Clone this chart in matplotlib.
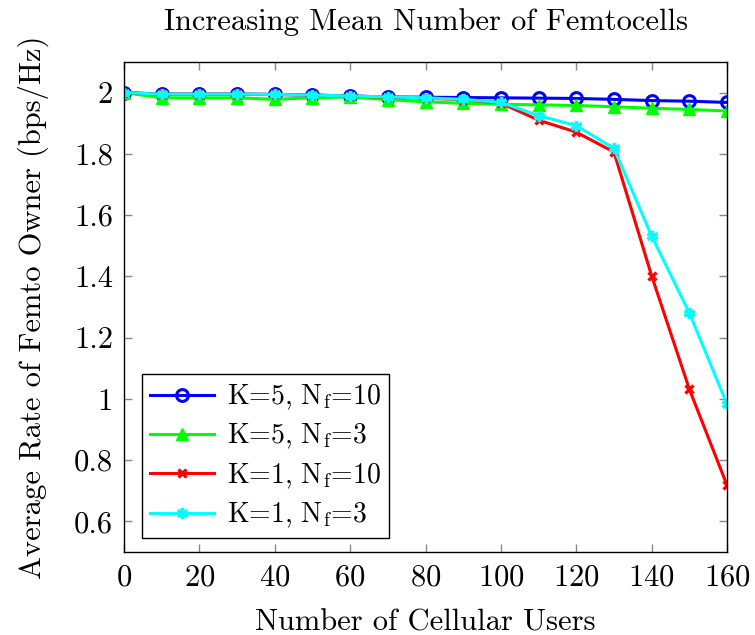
import numpy as np
import matplotlib.pyplot as plt
from matplotlib.ticker import FuncFormatter

plt.rcParams['font.family'] = ['cmr10', 'DejaVu Serif']
plt.rcParams['mathtext.fontset'] = 'cm'
plt.rcParams['axes.formatter.use_mathtext'] = True

# dados
usuarios = [0, 10, 20, 30, 40, 50, 60, 70, 80, 90, 100, 110, 120, 130, 140, 150, 160]
k5_nf10 = [2.0, 1.995, 1.995, 1.995, 1.994, 1.992, 1.989, 1.986, 1.985, 1.984, 1.983,
           1.982, 1.981, 1.978, 1.974, 1.972, 1.968]
k5_nf3 = [2.0, 1.983, 1.983, 1.983, 1.978, 1.983, 1.986, 1.977, 1.970, 1.965, 1.962,
          1.960, 1.958, 1.954, 1.949, 1.945, 1.940]
k1_nf10 = [2.0, 1.995, 1.995, 1.995, 1.994, 1.992, 1.989, 1.985, 1.982, 1.977, 1.966,
           1.910, 1.871, 1.806, 1.402, 1.032, 0.718]
k1_nf3 = [2.0, 1.995, 1.995, 1.995, 1.994, 1.992, 1.989, 1.986, 1.983, 1.978, 1.968,
          1.925, 1.892, 1.818, 1.532, 1.281, 0.983]
rotulos = ['K=5, N$_\\mathrm{f}$=10', 'K=5, N$_\\mathrm{f}$=3',
           'K=1, N$_\\mathrm{f}$=10', 'K=1, N$_\\mathrm{f}$=3']

fs = 22

fig = plt.figure(figsize=(7.55, 6.35), dpi=100)
ax = fig.add_axes([124/755, 83/635, 603/755, 490/635])

lw = 2.2
ax.plot(usuarios, k5_nf10, color='blue', lw=lw, marker='o', ms=8.5,
        mfc='none', mew=2.2, label=rotulos[0])
ax.plot(usuarios, k5_nf3, color='#00ff00', lw=lw, marker='^', ms=9,
        mew=1, label=rotulos[1])
ax.plot(usuarios, k1_nf10, color='red', lw=lw, marker='x', ms=6,
        mew=2.4, label=rotulos[2])
ax.plot(usuarios, k1_nf3, color='cyan', lw=lw, marker=(6, 2, 0), ms=8,
        mew=2.4, label=rotulos[3])

ax.set_xlim(0, 160)
ax.set_ylim(0.5, 2.1)
ax.set_xticks(np.arange(0, 161, 20))
ax.set_yticks(np.arange(0.6, 2.01, 0.2))
ax.yaxis.set_major_formatter(FuncFormatter(lambda v, p: '{:g}'.format(round(v, 2))))

ax.tick_params(direction='in', top=True, right=True, length=6, width=1,
               color='#888888', labelsize=fs)
ax.tick_params(axis='x', pad=9)
ax.tick_params(axis='y', pad=8)
for s in ax.spines.values():
    s.set_linewidth(1.0)

ax.set_xlabel('Number of Cellular Users', fontsize=fs, labelpad=12)
ax.set_ylabel('Average Rate of Femto Owner (bps/Hz)', fontsize=fs, labelpad=18)
ax.set_title('Increasing Mean Number of Femtocells', fontsize=fs, pad=23)

leg = ax.legend(loc='lower left', bbox_to_anchor=(0.03, 0.028), fontsize=20,
                fancybox=False, edgecolor='black', framealpha=1,
                handlelength=2.3, borderpad=0.3, labelspacing=0.36,
                handletextpad=0.45, borderaxespad=0)
leg.get_frame().set_linewidth(1.0)

fig.savefig('out.png', dpi=100)
